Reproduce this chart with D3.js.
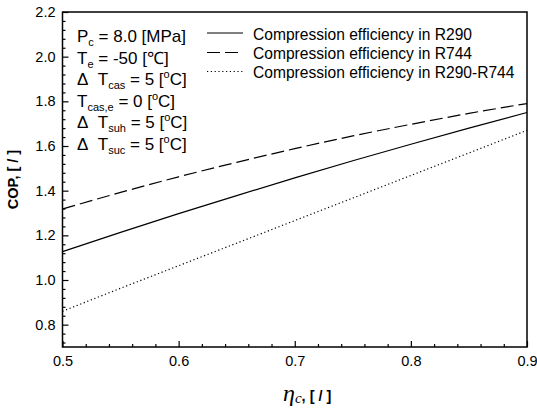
<!DOCTYPE html>
<html>
<head>
<meta charset="utf-8">
<script src="https://cdn.jsdelivr.net/npm/d3@7"></script>
<style>
  html, body { margin: 0; padding: 0; background: #fff; }
  svg { display: block; }
  text { font-family: "Liberation Sans", Arial, sans-serif; fill: #000; }
</style>
</head>
<body>
<svg id="chart" width="537" height="408"></svg>
<script>
// Compression efficiency (x) and COP of each cycle
const etaC    = [0.50, 0.55, 0.60, 0.65, 0.70, 0.75, 0.80, 0.85, 0.90];
const copR290 = [1.127, 1.213, 1.297, 1.378, 1.457, 1.534, 1.608, 1.680, 1.750];
const copR744 = [1.318, 1.392, 1.462, 1.527, 1.588, 1.645, 1.697, 1.746, 1.790];
const copCascade = [0.860, 0.963, 1.064, 1.165, 1.266, 1.367, 1.468, 1.569, 1.670];

const xTicks = [0.5, 0.6, 0.7, 0.8, 0.9];
const yTicks = [0.8, 1.0, 1.2, 1.4, 1.6, 1.8, 2.0, 2.2];

const seriesNames = [
  "Compression efficiency in R290",
  "Compression efficiency in R744",
  "Compression efficiency in R290-R744"
];

const svg = d3.select("#chart");
const plotLeft = 62.5, plotRight = 527, plotTop = 12, plotBottom = 347;

const x = d3.scaleLinear().domain([0.5, 0.9]).range([plotLeft, plotRight]);
const y = d3.scaleLinear().domain([0.7, 2.2]).range([plotBottom, plotTop]);

// minor ticks
const xMinor = d3.range(0.52, 0.9, 0.02).filter(v => Math.abs(v * 10 - Math.round(v * 10)) > 1e-6);
const yMinor = d3.range(0.72, 2.2, 0.04).filter(v => Math.abs(v * 5 - Math.round(v * 5)) > 1e-6);

const gxMinor = svg.append("g").attr("transform", `translate(0,${plotBottom})`)
  .call(d3.axisBottom(x).tickValues(xMinor).tickSize(-3).tickFormat(""));
const gyMinor = svg.append("g").attr("transform", `translate(${plotLeft},0)`)
  .call(d3.axisLeft(y).tickValues(yMinor).tickSize(-3).tickFormat(""));

const gx = svg.append("g").attr("transform", `translate(0,${plotBottom})`)
  .call(d3.axisBottom(x).tickValues(xTicks).tickSize(-6).tickPadding(9)
    .tickFormat(d3.format(".1f")));
const gy = svg.append("g").attr("transform", `translate(${plotLeft},0)`)
  .call(d3.axisLeft(y).tickValues(yTicks).tickSize(-6).tickPadding(7)
    .tickFormat(d3.format(".1f")));

[gxMinor, gyMinor, gx, gy].forEach(g => {
  g.select(".domain").remove();
  g.selectAll(".tick line").attr("stroke", "#000").attr("stroke-width", 1.2);
  g.selectAll(".tick text").attr("font-size", 14.5).attr("fill", "#000")
    .style("font-family", "'Liberation Sans', Arial, sans-serif");
});

// frame
svg.append("rect")
  .attr("x", plotLeft).attr("y", plotTop)
  .attr("width", plotRight - plotLeft).attr("height", plotBottom - plotTop)
  .attr("fill", "none").attr("stroke", "#000").attr("stroke-width", 1.5);

// curves
const styles = [
  { data: copR290, dash: null },
  { data: copR744, dash: "13,5" },
  { data: copCascade, dash: "1.2,2.6" }
];
const line = d3.line().x((d, i) => x(etaC[i])).y(d => y(d)).curve(d3.curveMonotoneX);

styles.forEach(s => {
  svg.append("path")
    .datum(s.data)
    .attr("d", line)
    .attr("fill", "none")
    .attr("stroke", "#000")
    .attr("stroke-width", 1.2)
    .attr("stroke-dasharray", s.dash);
});

// legend
const legendY = [33, 52.5, 71.5];
styles.forEach((s, i) => {
  svg.append("line")
    .attr("x1", 207).attr("x2", 243)
    .attr("y1", legendY[i]).attr("y2", legendY[i])
    .attr("stroke", "#000").attr("stroke-width", 1.2)
    .attr("stroke-dasharray", s.dash);
  svg.append("text")
    .attr("x", 253).attr("y", legendY[i] + 6.5)
    .attr("font-size", 15.6)
    .text(seriesNames[i]);
});

// operating conditions
const conds = svg.append("g").attr("font-size", 17);
function cond(yb, parts) {
  const t = conds.append("text").attr("x", 77).attr("y", yb);
  parts.forEach(p => {
    const ts = t.append("tspan").text(p.t);
    if (p.sub) ts.attr("font-size", 11).attr("dy", 4);
    if (p.sup) ts.attr("font-size", 11).attr("dy", -7);
    if (p.back) ts.attr("dy", p.back);
  });
}
const D = "\u0394\u00a0\u00a0T";
cond(42, [{ t: "P" }, { t: "c", sub: true }, { t: " = 8.0 [MPa]", back: -4 }]);
cond(63.5, [{ t: "T" }, { t: "e", sub: true }, { t: " = -50 [\u2103]", back: -4 }]);
cond(85, [{ t: D }, { t: "cas", sub: true }, { t: " = 5 [", back: -4 }, { t: "o", sup: true }, { t: "C]", back: 7 }]);
cond(106.5, [{ t: "T" }, { t: "cas,e", sub: true }, { t: " = 0 [", back: -4 }, { t: "o", sup: true }, { t: "C]", back: 7 }]);
cond(128, [{ t: D }, { t: "suh", sub: true }, { t: " = 5 [", back: -4 }, { t: "o", sup: true }, { t: "C]", back: 7 }]);
cond(149.5, [{ t: D }, { t: "suc", sub: true }, { t: " = 5 [", back: -4 }, { t: "o", sup: true }, { t: "C]", back: 7 }]);

// axis titles
svg.append("text")
  .attr("transform", `translate(18,${(plotTop + plotBottom) / 2}) rotate(-90)`)
  .attr("text-anchor", "middle")
  .attr("font-size", 14.5).attr("font-weight", "bold")
  .text("COP, [ / ]");

const xt = svg.append("text").attr("x", 283).attr("y", 401);
xt.append("tspan").text("\u03b7")
  .style("font-family", "'Liberation Serif', 'Times New Roman', serif")
  .attr("font-style", "italic").attr("font-size", 24);
xt.append("tspan").text("c")
  .style("font-family", "'Liberation Serif', 'Times New Roman', serif")
  .attr("font-style", "italic").attr("font-size", 15).attr("dy", 2);
xt.append("tspan").text(", [ / ]")
  .attr("font-size", 14.5).attr("font-weight", "bold").attr("dy", -2);
</script>
</body>
</html>
